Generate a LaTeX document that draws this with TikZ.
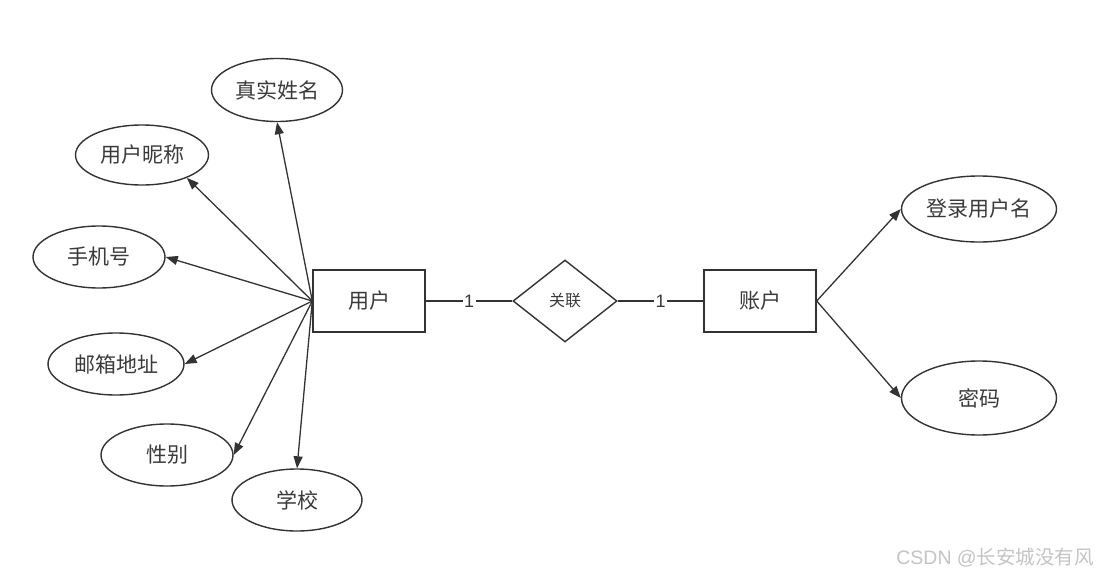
\documentclass[tikz,border=0pt]{standalone}
\usepackage{fontspec}
\setmainfont{Noto Sans CJK SC}
\setsansfont{Liberation Sans}
\usetikzlibrary{shapes.geometric,arrows.meta}
\definecolor{ln}{HTML}{333333}
\definecolor{tx}{HTML}{3A3A3A}
\definecolor{wm}{HTML}{C4C4C4}
\begin{document}
\begin{tikzpicture}[x=1pt,y=-1pt,
  attr/.style={ellipse,draw=ln,line width=1.4pt,minimum width=132pt,minimum height=62pt,inner sep=0pt,font=\fontsize{21}{21}\selectfont,text=tx},
  ent/.style={rectangle,draw=ln,line width=1.4pt,minimum width=112pt,minimum height=62pt,inner sep=0pt,font=\fontsize{21}{21}\selectfont,text=tx},
  rel/.style={diamond,draw=ln,line width=1.4pt,minimum width=104pt,minimum height=82pt,inner sep=0pt,aspect=1.27,font=\fontsize{16}{16}\selectfont,text=tx},
  arr/.style={draw=ln,line width=1.3pt,-{Triangle[length=12pt,width=9pt]}},
  lk/.style={draw=ln,line width=1.3pt},
  card/.style={fill=white,inner sep=1.5pt,font=\sffamily\fontsize{18}{18}\selectfont,text=tx}]
\useasboundingbox (0,0) rectangle (1097,578);
\fill[white] (0,0) rectangle (1097,578);
% entities
\node[ent] (user) at (369,301) {用户};
\node[ent] (acct) at (760,301) {账户};
\node[rel,minimum width=104pt,minimum height=82pt] (rel) at (565,301) {关联};
% attributes
\node[attr,minimum width=131pt,minimum height=63pt] (name) at (277,90) {真实姓名};
\node[attr,minimum width=133pt,minimum height=60pt] (nick) at (142,155) {用户昵称};
\node[attr] (phone) at (99,257) {手机号};
\node[attr,minimum width=136pt] (mail) at (116,364) {邮箱地址};
\node[attr] (sex) at (167,455) {性别};
\node[attr,minimum width=130pt] (school) at (297,500) {学校};
\node[attr,minimum width=155pt,minimum height=66pt] (login) at (979,209) {登录用户名};
\node[attr,minimum width=155pt,minimum height=74pt] (pwd) at (979,398) {密码};
% hubs
\coordinate (uh) at (user.west);
\coordinate (ah) at (acct.east);
\draw[arr] (uh) -- (name.south);
\draw[arr] (uh) -- (nick.-27);
\draw[arr] (uh) -- (phone.east);
\draw[arr] (uh) -- (mail.east);
\draw[arr] (uh) -- (sex.east);
\draw[arr] (uh) -- (school.north);
\draw[arr] (ah) -- (login.west);
\draw[arr] (ah) -- (pwd.west);
% relationship links
\draw[lk] (user.east) -- node[card] {1} (rel.west);
\draw[lk] (rel.east) -- node[card] {1} (acct.west);
% watermark
\node[anchor=east,inner sep=0pt,text=wm,font=\fontsize{19.5}{19.5}\selectfont] (wmk) at (1094,558) {\sffamily CSDN @\rmfamily 长安城没有风};
\end{tikzpicture}
\end{document}
